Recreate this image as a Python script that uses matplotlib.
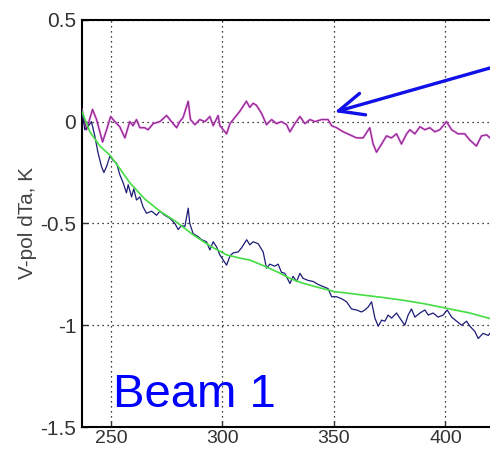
import matplotlib.pyplot as plt

plt.rcParams["font.family"] = ["Liberation Sans", "DejaVu Sans"]

# V-pol curve near zero (magenta)
vpol_x = [237.0, 239.1, 241.8, 243.6, 246.3, 248.1, 249.9, 251.8, 254.0, 256.3,
          258.5, 260.0, 261.5, 263.0, 265.2, 266.7, 269.0, 272.0, 275.0, 277.2,
          279.5, 280.9, 282.4, 284.7, 285.7, 287.7, 289.9, 292.2, 294.4, 295.9,
          298.1, 298.9, 301.9, 303.4, 305.6, 307.8, 310.8, 312.3, 313.8, 315.3,
          317.6, 319.8, 322.1, 324.3, 326.5, 328.8, 330.3, 332.5, 334.8, 337.0,
          339.3, 341.5, 344.5, 347.4, 349.0, 351.2, 354.2, 357.2, 360.2, 363.1,
          366.1, 367.6, 369.1, 371.4, 373.6, 375.8, 378.1, 380.3, 382.6, 384.1,
          386.3, 388.6, 390.8, 393.0, 395.3, 397.5, 400.5, 402.8, 405.7, 408.7,
          410.9, 413.9, 416.2, 418.5, 420.0]
vpol_y = [0.06, -0.04, 0.06, 0.01, -0.10, -0.04, 0.025, 0.0, -0.025, -0.08,
          0.0, -0.02, 0.01, -0.03, -0.03, -0.04, -0.01, 0.0, 0.03, 0.0,
          -0.03, 0.0, 0.02, 0.10, 0.01, -0.015, 0.01, 0.0, 0.025, -0.02,
          0.03, -0.02, -0.06, -0.01, 0.02, 0.05, 0.10, 0.07, 0.09, 0.08,
          0.04, -0.015, 0.01, -0.01, 0.0, -0.015, -0.05, -0.01, 0.025, -0.01,
          0.01, 0.0, 0.01, 0.01, -0.02, -0.03, -0.05, -0.065, -0.08, -0.08,
          -0.03, -0.11, -0.15, -0.11, -0.07, -0.08, -0.06, -0.11, -0.06, -0.04,
          -0.06, -0.025, -0.04, -0.03, -0.05, -0.04, 0.0, -0.04, -0.06, -0.06,
          -0.09, -0.12, -0.07, -0.065, -0.08]

# Beam 1 drift (navy)
beam_x = [237.0, 238.3, 239.8, 241.3, 242.8, 244.3, 245.8, 246.9, 248.1, 249.6,
          251.0, 252.6, 254.0, 255.5, 257.0, 257.8, 259.3, 260.3, 261.5, 263.0,
          264.5, 266.0, 268.3, 270.5, 272.0, 274.2, 276.5, 278.7, 280.2, 281.7,
          283.2, 284.7, 285.4, 286.9, 289.1, 290.7, 292.9, 294.4, 295.9, 297.4,
          298.9, 300.4, 301.9, 303.4, 304.8, 307.1, 308.6, 310.9, 312.3, 313.8,
          316.1, 318.3, 319.8, 321.3, 323.5, 325.0, 326.5, 328.0, 330.3, 331.7,
          333.3, 334.8, 336.2, 338.5, 340.7, 343.0, 345.2, 347.4, 349.0, 351.2,
          353.5, 355.7, 357.9, 360.2, 362.4, 363.9, 365.4, 366.9, 368.4, 369.9,
          371.4, 372.9, 374.3, 375.9, 378.1, 379.6, 381.8, 383.3, 384.8, 386.3,
          388.6, 390.8, 392.3, 394.5, 396.7, 399.0, 400.8, 402.8, 405.0, 407.3,
          409.5, 411.0, 413.2, 414.7, 416.9, 419.2, 420.0]
beam_y = [0.06, -0.04, -0.025, 0.0, -0.07, -0.155, -0.22, -0.25, -0.22, -0.17,
          -0.19, -0.205, -0.26, -0.30, -0.35, -0.31, -0.37, -0.33, -0.385, -0.37,
          -0.42, -0.45, -0.44, -0.46, -0.44, -0.46, -0.475, -0.50, -0.53, -0.51,
          -0.515, -0.425, -0.50, -0.55, -0.565, -0.58, -0.59, -0.63, -0.59, -0.615,
          -0.655, -0.68, -0.705, -0.66, -0.645, -0.64, -0.62, -0.58, -0.605, -0.59,
          -0.60, -0.64, -0.72, -0.70, -0.71, -0.70, -0.74, -0.745, -0.795, -0.76,
          -0.785, -0.745, -0.77, -0.78, -0.785, -0.80, -0.81, -0.82, -0.86, -0.86,
          -0.87, -0.885, -0.92, -0.925, -0.935, -0.925, -0.91, -0.885, -0.965, -1.005,
          -0.975, -0.98, -0.95, -0.965, -0.94, -0.965, -1.0, -0.95, -0.92, -0.96,
          -0.94, -0.925, -0.95, -0.94, -0.96, -0.95, -0.925, -0.96, -0.98, -1.0,
          -0.98, -1.005, -1.03, -1.065, -1.04, -1.05, -1.04]

# fitted trend (green)
fit_x = [237.0, 240.6, 245.1, 249.6, 254.0, 258.5, 265.2, 272.0, 279.1, 286.8,
         294.4, 302.0, 307.8, 312.3, 319.0, 325.0, 330.3, 335.0, 341.5, 350.4,
         361.7, 372.9, 380.9, 390.8, 400.7, 411.0, 420.0]
fit_y = [0.05, -0.05, -0.12, -0.165, -0.23, -0.30, -0.38, -0.44, -0.49, -0.555,
         -0.61, -0.655, -0.67, -0.68, -0.71, -0.74, -0.77, -0.79, -0.81, -0.835,
         -0.85, -0.865, -0.877, -0.895, -0.917, -0.94, -0.967]

x_ticks = [250, 300, 350, 400]
y_ticks = [-1.5, -1, -0.5, 0, 0.5]
y_tick_labels = ["-1.5", "-1", "-0.5", "0", "0.5"]

fig = plt.figure(figsize=(4.9, 4.5), dpi=100)
ax = fig.add_axes([0.167, 0.051, 0.833, 0.905])

ax.plot(vpol_x, vpol_y, color="#e060e0", lw=1.5, zorder=3)
ax.plot(vpol_x, vpol_y, color="#401840", lw=0.5, alpha=0.8, zorder=4)
ax.plot(beam_x, beam_y, color="#1c1c78", lw=0.9, zorder=3)
ax.plot(fit_x, fit_y, color="#44dd44", lw=1.2, zorder=4)

ax.set_xlim(237, 420)
ax.set_ylim(-1.5, 0.5)
ax.set_xticks(x_ticks)
ax.set_yticks(y_ticks)
ax.set_yticklabels(y_tick_labels)
ax.grid(True, color="black", linestyle=(0, (1, 3)), linewidth=0.9)
ax.tick_params(direction="in", colors="#333333", length=4, width=1)
ax.tick_params(axis="y", labelsize=15, pad=4)
ax.tick_params(axis="x", labelsize=14, pad=2)
ax.spines["right"].set_visible(False)
for side in ["left", "bottom", "top"]:
    ax.spines[side].set_linewidth(1.5)

ax.set_ylabel("V-pol dTa, K", fontsize=15, color="#444444", labelpad=2)

ax.text(251, -1.40, "Beam 1", fontsize=34, color="#0000ff", zorder=6)

ax.annotate("", xy=(349.1, 0.043), xytext=(435, 0.31),
            arrowprops=dict(arrowstyle="->,head_length=0.9,head_width=0.4",
                            color="#1010e8", lw=2.4, mutation_scale=20),
            annotation_clip=False, zorder=7)

fig.savefig("out.png", dpi=100)
